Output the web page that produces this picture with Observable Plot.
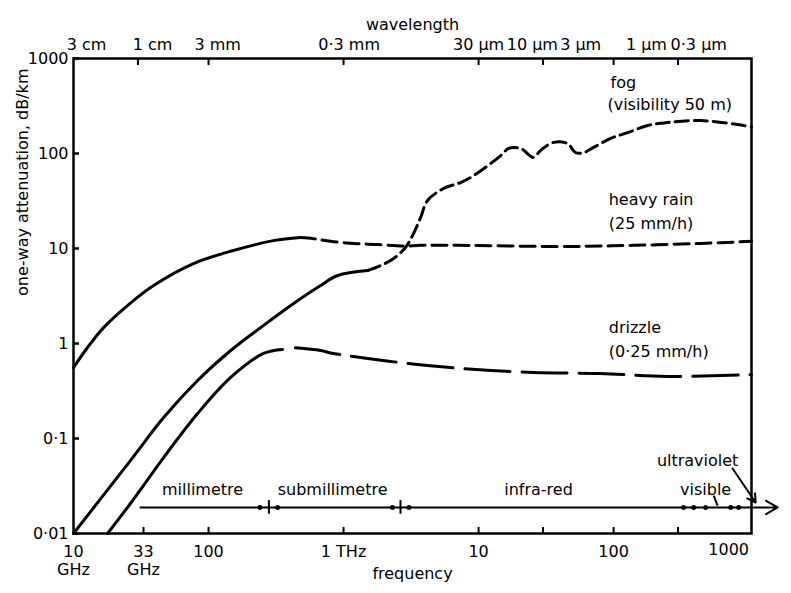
<!DOCTYPE html>
<html><head><meta charset="utf-8">
<script src="https://cdn.jsdelivr.net/npm/d3@7"></script>
<script src="https://cdn.jsdelivr.net/npm/@observablehq/plot@0.6"></script>
<style>body{margin:0;background:#fff}</style>
</head><body><div id="chart"></div>
<script>
// frequency in THz, attenuation in dB/km
const fogSolidF = [0.01, 0.0264, 0.0465, 0.083, 0.146, 0.243, 0.427, 0.676, 0.904, 1.51];
const fogSolidA = [0.01, 0.0586, 0.166, 0.408, 0.844, 1.47, 2.64, 4.08, 5.2, 5.87];
const fogDashF = [1.51, 1.88, 2.35, 2.88, 3.30, 3.72, 4.19, 5.5, 7.36, 9.2, 14.6, 16.7, 20.5, 25.5, 28.8, 36, 45.6, 52.3, 60, 71, 95, 127, 179, 251, 441, 830, 1050];
const fogDashA = [5.87, 6.6, 7.85, 10.3, 14.4, 21.2, 32, 42.8, 49.5, 58.6, 95, 113, 113, 91, 108, 131, 127, 102, 102, 116, 144, 166, 197, 212, 222, 202, 190];
const rainSolidF = [0.01, 0.0127, 0.0167, 0.0251, 0.0392, 0.0774, 0.153, 0.303, 0.48];
const rainSolidA = [0.558, 0.908, 1.47, 2.51, 4.08, 6.95, 9.53, 12.1, 13.06];
const rainDashF = [0.48, 0.6, 0.8, 1.19, 1.79, 2.78, 3.72, 7.0, 45.6, 141, 441, 1050];
const rainDashA = [13.06, 12.7, 11.9, 11.3, 11.0, 10.6, 10.8, 10.8, 10.5, 10.8, 11.3, 11.9];
const drizSolidF = [0.01787, 0.0264, 0.0465, 0.083, 0.146, 0.255, 0.353];
const drizSolidA = [0.01, 0.0207, 0.063, 0.183, 0.439, 0.785, 0.865];
const drizDashF = [0.44, 0.676, 0.843, 2.23, 7.36, 25.5, 80, 251, 1050];
const drizDashA = [0.9, 0.843, 0.785, 0.647, 0.546, 0.496, 0.483, 0.45, 0.47];

const yTicks = [0.01, 0.1, 1, 10, 100, 1000];
const yTickLabels = ["0·01", "0·1", "1", "10", "100", "1000"];
const bottomTicks = [0.033, 0.1, 1, 10, 30, 100, 300];
const bottomLabelF = [0.01, 0.033, 0.1, 1, 10, 100];
const bottomLabelText = ["10\nGHz", "33\nGHz", "100", "1 THz", "10", "100"];
const lastLabelF = [1000];
const lastLabelText = ["1000"];
const topTicks = [0.03, 0.1, 1, 10, 30, 100, 300];
const wavelengthLabelF = [0.0125, 0.0385, 0.117, 1.1, 10, 25, 57, 175, 427];
const wavelengthLabels = ["3 cm", "1 cm", "3 mm", "0·3 mm", "30 µm", "10 µm", "3 µm", "1 µm", "0·3 µm"];

const curveLabelF = [95, 90, 92, 92, 92, 92];
const curveLabelA = [559, 328, 32.8, 18.3, 1.47, 0.824];
const curveLabels = ["fog", "(visibility 50 m)", "heavy rain", "(25 mm/h)", "drizzle", "(0·25 mm/h)"];

const bandY = 0.0188;
const bandStartF = 0.0313, bandEndF = 1640;
const bandBoundF = [0.28, 2.64];
const bandDotF = [0.24, 0.325, 2.3, 3.05, 330, 392, 480, 736, 843];
const bandLabelF = [0.0903, 0.83, 27.8, 480];
const bandLabelA = [0.029, 0.029, 0.029, 0.029];
const bandLabels = ["millimetre", "submillimetre", "infra-red", "visible"];
const uvLabelF = [419], uvLabelA = [0.0586], uvLabel = ["ultraviolet"];
const uvPointer = {f1: 760, a1: 0.0483, f2: 1127, a2: 0.0212};
const visPointer = {f1: 551, a1: 0.0251, f2: 589, a2: 0.0197};

const zip = (F, A) => F.map((f, i) => ({f, a: A[i]}));
const lab = (F, A, T) => F.map((f, i) => ({f, a: A[i], t: T[i]}));

const font = "DejaVu Sans, sans-serif";
const fs = 16;
const chart = Plot.plot({
  width: 791, height: 593,
  marginLeft: 73, marginRight: 40, marginTop: 58, marginBottom: 60,
  style: {fontFamily: font, fontSize: fs + "px", color: "#000", background: "#fff"},
  x: {type: "log", domain: [0.01, 1050]},
  y: {type: "log", domain: [0.01, 1000]},
  marks: [
    Plot.frame({strokeWidth: 2.5}),
    Plot.axisY({ticks: yTicks, tickFormat: d => yTickLabels[yTicks.indexOf(d)], tickSize: 6, dx: 6, tickPadding: 5, strokeWidth: 2.5, fontSize: fs, label: null}),
    Plot.axisX({anchor: "bottom", ticks: bottomTicks, tickFormat: () => "", tickSize: 6, dy: -6, strokeWidth: 2, label: null}),
    Plot.axisX({anchor: "top", ticks: topTicks, tickFormat: () => "", tickSize: 6, dy: 6, strokeWidth: 2, label: null}),
    Plot.text(lab(bottomLabelF, bottomLabelF, bottomLabelText), {x: "f", frameAnchor: "bottom", lineAnchor: "top", dy: 10, lineHeight: 1.15, text: "t", fontSize: fs}),
    Plot.text(lab(lastLabelF, lastLabelF, lastLabelText), {x: "f", frameAnchor: "bottom", lineAnchor: "top", dy: 10, dx: -20, text: "t", fontSize: fs}),
    Plot.text(lab(wavelengthLabelF, wavelengthLabelF, wavelengthLabels), {x: "f", frameAnchor: "top", lineAnchor: "bottom", dy: -9, text: "t", fontSize: fs}),
    Plot.text(["wavelength"], {frameAnchor: "top", dy: -40, text: d => d, fontSize: fs}),
    Plot.text(["frequency"], {frameAnchor: "bottom", dy: 45, text: d => d, fontSize: fs}),
    Plot.text(["one-way attenuation, dB/km"], {frameAnchor: "left", dx: -51, rotate: -90, text: d => d, fontSize: fs}),
    // curves
    Plot.line(zip(fogSolidF, fogSolidA), {x: "f", y: "a", strokeWidth: 3, curve: "catmull-rom"}),
    Plot.line(zip(fogDashF, fogDashA), {x: "f", y: "a", strokeWidth: 3, strokeDasharray: "13,6", curve: "catmull-rom"}),
    Plot.line(zip(rainSolidF, rainSolidA), {x: "f", y: "a", strokeWidth: 3, curve: "catmull-rom"}),
    Plot.line(zip(rainDashF, rainDashA), {x: "f", y: "a", strokeWidth: 3, strokeDasharray: "15,7", curve: "catmull-rom"}),
    Plot.line(zip(drizSolidF, drizSolidA), {x: "f", y: "a", strokeWidth: 3, curve: "catmull-rom"}),
    Plot.line(zip(drizDashF, drizDashA), {x: "f", y: "a", strokeWidth: 3, strokeDasharray: "45,12", curve: "catmull-rom"}),
    Plot.text(lab(curveLabelF, curveLabelA, curveLabels), {x: "f", y: "a", text: "t", textAnchor: "start", fontSize: fs}),
    // bands
    Plot.arrow([{f1: bandStartF, f2: bandEndF}], {x1: "f1", x2: "f2", y1: bandY, y2: bandY, strokeWidth: 2, headLength: 10}),
    Plot.ruleX(bandBoundF, {x: d => d, y1: bandY * 0.85, y2: bandY * 1.18, strokeWidth: 2}),
    Plot.dot(bandDotF, {x: d => d, y: bandY, r: 2.5, fill: "#000"}),
    Plot.text(lab(bandLabelF, bandLabelA, bandLabels), {x: "f", y: "a", text: "t", fontSize: fs}),
    Plot.text(lab(uvLabelF, uvLabelA, uvLabel), {x: "f", y: "a", text: "t", fontSize: fs}),
    Plot.arrow([uvPointer], {x1: "f1", y1: "a1", x2: "f2", y2: "a2", strokeWidth: 2, headLength: 7}),
    Plot.link([visPointer], {x1: "f1", y1: "a1", x2: "f2", y2: "a2", strokeWidth: 2})
  ]
});
document.getElementById("chart").appendChild(chart);
</script>
</body></html>
